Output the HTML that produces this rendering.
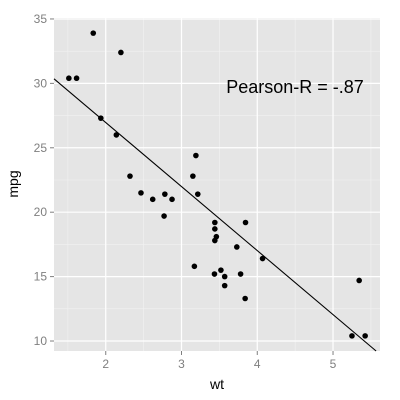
<!DOCTYPE html>
<html><head><meta charset="utf-8"><style>
html,body{margin:0;padding:0;background:#fff;width:400px;height:400px;overflow:hidden}
text{font-family:"Liberation Sans",sans-serif}
</style></head><body>
<svg id="chart" width="400" height="400">
<rect x="54" y="18" width="326" height="333" fill="#e5e5e5"/>
<g id="grid"></g>
<g id="axes"></g>
<g id="marks"></g>
<text x="295" y="93" font-size="18" text-anchor="middle" fill="#000">Pearson-R = -.87</text>
<text x="217" y="389" font-size="14" text-anchor="middle" fill="#000">wt</text>
<text x="0" y="0" font-size="14" text-anchor="middle" fill="#000" transform="translate(18,184) rotate(-90)">mpg</text>
</svg>
<script>
const wt=[2.62,2.875,2.32,3.215,3.44,3.46,3.57,3.19,3.15,3.44,3.44,4.07,3.73,3.78,5.25,5.424,5.345,2.2,1.615,1.835,2.465,3.52,3.435,3.84,3.845,1.935,2.14,1.513,3.17,2.77,3.57,2.78];
const mpg=[21,21,22.8,21.4,18.7,18.1,14.3,24.4,22.8,19.2,17.8,16.4,17.3,15.2,10.4,10.4,14.7,32.4,30.4,33.9,21.5,15.5,15.2,13.3,19.2,27.3,26,30.4,15.8,19.7,15,21.4];
const xTicks=[2,3,4,5];
const yTicks=[10,15,20,25,30,35];
const fitIntercept=36.9, fitSlope=-4.97;
const X0=54,X1=380,Y0=18,Y1=351;
const xmin=1.317,xmax=5.62,ymin=9.225,ymax=35.075;
const sx=v=>X0+(v-xmin)/(xmax-xmin)*(X1-X0);
const sy=v=>Y1-(v-ymin)/(ymax-ymin)*(Y1-Y0);
const NS="http://www.w3.org/2000/svg";
function mk(t,a,p){const e=document.createElementNS(NS,t);for(const k in a)e.setAttribute(k,a[k]);p.appendChild(e);return e;}
const grid=document.getElementById('grid'),axes=document.getElementById('axes'),marks=document.getElementById('marks');
for(let i=0;i<xTicks.length+1;i++){const v=xTicks[0]-0.5+i;if(v>xmin&&v<xmax){const l=mk('line',{x1:sx(v),x2:sx(v),y1:Y0,y2:Y1,stroke:'#f2f2f2','stroke-width':0.6},grid);

}}
for(let i=0;i<yTicks.length;i++){const v=yTicks[i]+2.5;if(v>ymin&&v<ymax){const l=mk('line',{x1:X0,x2:X1,y1:sy(v),y2:sy(v),stroke:'#f2f2f2','stroke-width':0.6},grid);

}}
xTicks.forEach(v=>{const x=sx(v);
const g=mk('line',{x1:x,x2:x,y1:Y0,y2:Y1,stroke:'#fff','stroke-width':1.2},grid);


const t=mk('line',{x1:x,x2:x,y1:Y1,y2:Y1+4,stroke:'#7f7f7f','stroke-width':1},axes);


const l=mk('text',{x:x,y:Y1+17,'font-size':12,'text-anchor':'middle',fill:'#7f7f7f'},axes);l.textContent=v;

});
yTicks.forEach(v=>{const y=sy(v);
const g=mk('line',{x1:X0,x2:X1,y1:y,y2:y,stroke:'#fff','stroke-width':1.2},grid);


const t=mk('line',{x1:X0-4,x2:X0,y1:y,y2:y,stroke:'#7f7f7f','stroke-width':1},axes);


const l=mk('text',{x:X0-7,y:y+4,'font-size':12,'text-anchor':'end',fill:'#7f7f7f'},axes);l.textContent=v;

});
let xa=xmin,xb=xmax;const yb=fitIntercept+fitSlope*xb;
if(yb<ymin)xb=(ymin-fitIntercept)/fitSlope;
const fl=mk('line',{x1:sx(xa),y1:sy(fitIntercept+fitSlope*xa),x2:sx(xb),y2:sy(fitIntercept+fitSlope*xb),stroke:'#000','stroke-width':1.1},marks);


wt.forEach((w,i)=>{const c=mk('circle',{cx:sx(w),cy:sy(mpg[i]),r:2.8,fill:'#000'},marks);

});
</script>
</body></html>
